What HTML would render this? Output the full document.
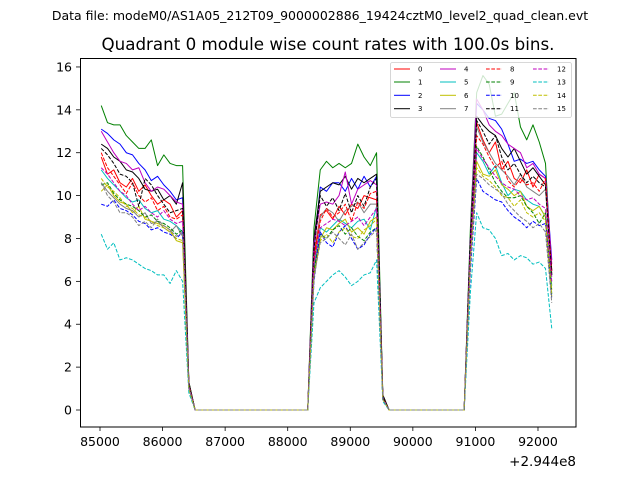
<!DOCTYPE html>
<html><head><meta charset="utf-8"><style>
html,body{margin:0;padding:0;background:#fff;}
svg{display:block;font-family:"DejaVu Sans","Liberation Sans",sans-serif;}
</style></head><body>
<svg id="chart" width="640" height="480" viewBox="0 0 640 480">
<text x="320" y="20" font-size="12.5" text-anchor="middle">Data file: modeM0/AS1A05_212T09_9000002886_19424cztM0_level2_quad_clean.evt</text>
<text x="328" y="50" font-size="16.7" text-anchor="middle">Quadrant 0 module wise count rates with 100.0s bins.</text>
<g id="plot"></g>
<rect x="80.5" y="58.5" width="495.5" height="368.5" fill="none" stroke="#000" stroke-width="1"/>
<g id="xaxis"></g>
<g id="yaxis"></g>
<text x="576" y="466" font-size="13.5" text-anchor="end">+2.944e8</text>
<g id="legend"></g>
</svg>
<script>
const t0 = 85020;
const step = 100;
const xTicks = [85000, 86000, 87000, 88000, 89000, 90000, 91000, 92000];
const yTicks = [0, 2, 4, 6, 8, 10, 12, 14, 16];
const seriesNames = ["0","1","2","3","4","5","6","7","8","9","10","11","12","13","14","15"];
const gapA = [0,0,0,0,0,0,0,0,0,0,0,0,0,0,0,0,0,0,0];
const gapB = [0,0,0,0,0,0,0,0,0,0,0,0,0];
const segA = [
 [11.8,11.0,11.2,10.6,10.4,10.8,10.2,10.5,10.0,9.6,9.8,9.6,9.0,9.3,1.2],
 [14.2,13.4,13.3,13.3,12.8,12.5,12.2,12.2,12.6,11.4,11.9,11.5,11.4,11.4,1.3],
 [13.1,12.9,12.6,12.4,12.0,11.9,11.5,11.2,10.7,10.9,10.5,10.2,9.8,9.9,1.2],
 [12.4,12.2,11.8,11.6,11.2,11.1,10.8,10.3,10.2,10.3,9.8,10.0,9.6,10.6,1.3],
 [13.0,12.5,12.0,11.6,11.5,11.2,11.3,10.6,10.2,10.4,10.3,10.0,9.7,9.6,1.2],
 [11.2,10.8,10.5,10.2,9.9,9.7,9.8,9.4,9.2,9.3,8.9,8.8,8.6,8.3,1.1],
 [10.2,10.5,10.0,9.7,9.6,9.2,9.5,8.9,8.8,8.7,8.6,8.4,7.9,7.8,1.0],
 [10.6,10.2,9.9,9.6,9.4,9.3,9.0,9.2,8.7,8.8,8.5,8.3,8.6,8.1,1.1],
 [12.0,11.3,10.9,10.5,10.1,10.6,10.0,9.7,9.9,9.3,9.5,9.0,8.9,9.1,1.2],
 [10.5,10.6,10.1,9.8,9.6,9.5,9.3,9.0,9.1,8.8,8.7,8.5,8.2,8.4,1.1],
 [9.6,9.5,9.8,9.4,9.3,9.1,8.8,8.7,8.4,8.5,8.3,8.2,8.0,8.3,1.0],
 [12.2,11.9,11.5,11.0,10.9,10.6,9.5,10.8,10.5,10.0,9.6,9.2,9.3,9.4,1.2],
 [11.3,11.0,10.6,10.2,10.0,9.6,9.3,9.5,9.2,9.0,9.3,8.9,8.7,8.8,1.1],
 [8.2,7.5,7.8,7.0,7.1,7.0,6.8,6.6,6.5,6.3,6.3,5.9,6.5,6.0,0.8],
 [10.8,10.4,10.2,9.9,9.5,9.4,9.1,9.0,8.8,8.6,8.5,8.3,8.0,7.9,1.0],
 [10.6,10.0,9.7,9.2,9.2,9.0,8.6,8.8,8.5,8.9,8.6,8.4,8.1,8.3,1.0]
];
const segB = [
 [7.2,9.1,9.3,8.9,9.5,9.1,9.6,9.4,10.0,9.9,9.8,0.6],
 [8.5,11.2,11.6,11.3,11.5,11.3,11.5,12.4,11.8,11.4,12.0,0.7],
 [7.5,10.4,10.2,10.6,10.6,10.2,10.8,10.3,10.9,10.4,10.9,0.6],
 [8.0,10.2,10.4,10.6,10.5,10.9,10.3,10.8,10.6,10.8,11.0,0.7],
 [7.8,9.6,9.7,9.6,10.0,11.1,9.6,10.3,10.5,10.7,10.5,0.6],
 [6.5,8.5,8.3,8.6,8.9,8.7,8.5,8.8,8.9,8.4,9.5,0.5],
 [6.4,8.0,8.5,8.4,8.7,8.9,8.3,8.5,8.2,8.8,9.0,0.5],
 [6.8,9.0,9.4,9.2,8.8,9.3,9.5,9.7,9.2,9.6,9.6,0.5],
 [7.0,8.8,9.4,9.0,9.2,9.6,8.8,9.7,9.4,10.1,10.2,0.6],
 [6.5,8.2,8.0,8.4,8.6,8.2,8.5,8.1,7.9,8.3,8.5,0.5],
 [6.0,8.3,7.8,7.6,8.3,8.6,8.0,7.5,7.7,8.2,8.5,0.5],
 [7.5,10.0,9.5,9.9,9.3,10.1,9.2,10.0,9.5,10.4,10.8,0.6],
 [6.8,8.5,8.7,8.9,8.8,8.6,8.8,9.0,8.6,9.0,9.4,0.5],
 [5.0,5.7,6.0,6.3,6.5,6.2,5.8,6.0,6.3,6.4,7.0,0.4],
 [6.2,7.9,8.2,7.8,8.3,8.5,8.1,8.0,8.4,8.6,8.9,0.5],
 [6.2,7.8,8.0,8.3,8.0,7.7,8.2,7.5,7.8,8.1,8.4,0.5]
];
const segC = [
 [7.5,13.4,12.6,12.0,12.5,11.2,11.6,10.8,10.6,11.2,10.4,11.0,10.8,6.5],
 [8.5,14.8,15.6,15.2,13.7,13.8,14.3,14.8,13.2,12.6,13.3,12.5,11.5,6.3],
 [8.0,14.3,14.0,13.6,13.5,13.1,12.4,11.6,11.7,11.5,11.6,11.2,10.9,7.0],
 [8.0,13.7,13.3,13.0,12.8,12.2,11.8,12.2,11.6,11.0,11.3,10.9,10.5,6.5],
 [8.0,14.5,14.0,13.3,13.0,12.8,12.4,12.2,12.0,11.3,11.5,11.0,10.8,6.8],
 [7.2,12.0,11.6,11.0,11.4,10.6,10.0,10.3,10.2,9.8,9.6,9.5,9.0,5.8],
 [7.0,11.6,11.0,10.9,11.2,10.5,10.3,10.0,10.2,9.5,9.3,9.5,9.0,5.6],
 [7.5,13.2,12.5,12.0,11.5,11.2,10.9,10.5,11.0,10.4,10.2,10.0,10.3,6.2],
 [7.5,12.8,12.4,11.8,11.3,11.6,10.7,10.4,10.8,10.5,10.6,10.2,10.8,6.4],
 [7.0,12.3,11.8,11.2,10.6,10.2,9.9,9.9,10.0,9.5,9.2,8.7,9.2,5.4],
 [6.5,10.8,10.2,10.0,9.8,9.7,9.3,9.0,8.8,8.5,8.8,8.6,8.7,5.2],
 [8.0,13.5,13.0,12.4,12.8,11.8,11.2,11.5,11.0,10.6,10.9,10.6,10.4,6.3],
 [7.3,12.2,11.7,11.3,10.9,10.6,10.4,10.3,10.0,9.8,9.9,9.6,9.4,6.0],
 [5.5,9.2,8.5,8.4,8.0,7.2,7.3,7.0,7.2,7.1,6.8,6.9,6.6,3.8],
 [7.0,11.3,10.9,10.7,10.4,10.0,9.9,9.5,9.8,9.2,9.0,9.2,8.8,5.3],
 [6.8,11.0,10.8,10.5,10.3,10.1,9.6,9.3,9.0,8.8,8.5,8.7,8.3,5.0]
];
const colors = ["#ff0000","#008000","#0000ff","#000000","#bf00bf","#00bfbf","#bfbf00","#808080"];
const NS = "http://www.w3.org/2000/svg";
function xScale(t){ return 100 + (t - 85000) * 0.06257; }
function yScale(v){ return 410 - v * 21.44; }
function mk(tag, attrs, parent){ const e = document.createElementNS(NS, tag); for (const k in attrs) e.setAttribute(k, attrs[k]); parent.appendChild(e); return e; }

const plot = document.getElementById('plot');
seriesNames.forEach((name, i) => {
  const vals = segA[i].concat(gapA, segB[i], gapB, segC[i]);
  const pts = vals.map((v, j) => xScale(t0 + j * step).toFixed(2) + ',' + yScale(v).toFixed(2)).join(' ');
  const pl = mk('polyline', {points: pts, fill: 'none', stroke: colors[i % 8], 'stroke-width': 1, 'stroke-linejoin': 'round'}, plot);
  if (i >= 8) pl.setAttribute('stroke-dasharray', '3.7,1.6');
  
  
});

const xa = document.getElementById('xaxis');
xTicks.forEach(t => {
  const x = xScale(t);
  const l = mk('line', {x1: x, x2: x, y1: 427, y2: 431, stroke: '#000', 'stroke-width': 0.8}, xa);
  
  
  const tx = mk('text', {x: x, y: 446, 'font-size': 12.5, 'text-anchor': 'middle'}, xa);
  tx.textContent = t;
  
  
});
const ya = document.getElementById('yaxis');
yTicks.forEach(v => {
  const y = yScale(v);
  const l = mk('line', {x1: 76, x2: 80, y1: y, y2: y, stroke: '#000', 'stroke-width': 0.8}, ya);
  
  
  const tx = mk('text', {x: 72, y: y + 4.5, 'font-size': 12.5, 'text-anchor': 'end'}, ya);
  tx.textContent = v;
  
  
});

const lg = document.getElementById('legend');
const box = mk('rect', {x: 390.5, y: 62.5, width: 181, height: 55, rx: 2, fill: '#fff', 'fill-opacity': 0.8, stroke: '#ccc', 'stroke-width': 0.8}, lg);


const colX = [394, 440, 486, 533];
const rowY = [69, 82, 95.3, 108.7];
seriesNames.forEach((name, i) => {
  const c = Math.floor(i / 4), r = i % 4;
  const g = mk('g', {}, lg);
  
  
  const l = mk('line', {x1: colX[c], x2: colX[c] + 16, y1: rowY[r], y2: rowY[r], stroke: colors[i % 8], 'stroke-width': 1}, g);
  if (i >= 8) l.setAttribute('stroke-dasharray', '3.7,1.6');
  const tx = mk('text', {x: colX[c] + 24, y: rowY[r] + 2.5, 'font-size': 7}, g);
  tx.textContent = name;
});
</script>
</body></html>
